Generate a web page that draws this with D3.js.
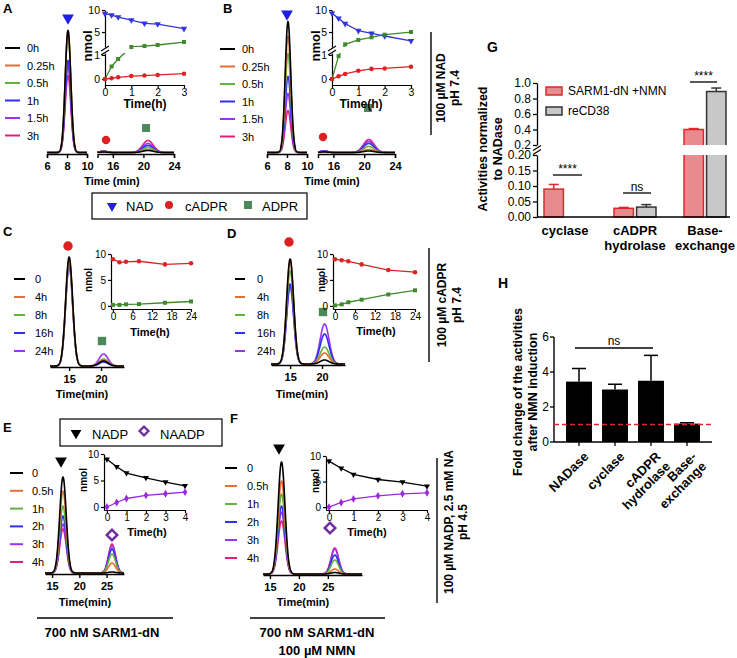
<!DOCTYPE html>
<html><head><meta charset="utf-8">
<script src="https://cdn.jsdelivr.net/npm/d3@7"></script>
<style>body{margin:0;background:#fff}svg{display:block}</style>
</head><body><script>
// ================= DATA =================
// Chromatogram trace labels
const abLabels = ["0h","0.25h","0.5h","1h","1.5h","3h"];
const cdLabels = ["0","4h","8h","16h","24h"];
const efLabels = ["0","0.5h","1h","2h","3h","4h"];
// retention times (min) and peak widths (sd, min)
const rtNAD = 8.1, sdNAD = 0.28;
const rtCADPR_ab = 14.8, sdCADPR_ab = 0.5;
const rtADPR_ab = 20.6, sdADPR_ab = 0.7;
const rtCADPR_cd = 15.0, sdCADPR_cd = 0.55;
const rtADPR_cd = 20.4, sdADPR_cd = 0.7;
const rtNADP = 17.0, sdNADP = 0.6;
const rtNAADP_E = 26.0, rtNAADP_F = 26.2, sdNAADP = 0.65;
// peak heights (mAU)
const chromA_NAD   = [122,121,120,92,87,77];
const chromA_cADPR = [0.5,0.6,0.8,1.0,1.2,1.5];
const chromA_ADPR  = [2,3,5,7,9,12];
const chromB_NAD   = [131,116,99,76,59,42];
const chromB_cADPR = [0.6,0.8,1.0,1.3,1.5,1.8];
const chromB_ADPR  = [1.5,3,6,9,11,13];
const chromC_cADPR = [109,105,105,100,102];
const chromC_ADPR  = [5,6,7,4,12];
const chromD_cADPR = [105,103,93,80,77];
const chromD_ADPR  = [4,11,17,30,40];
const chromE_NADP  = [96,82,67,57,49,44];
const chromE_NAADP = [1,10,19,24,27,29];
const chromF_NADP  = [112,93,80,68,62,53];
const chromF_NAADP = [1.5,5,14,19,25,26];
// Inset time courses (nmol)
const insetAB_time = [0,0.25,0.5,1,1.5,2,3];
const insetA_NAD   = [9.16,8.86,8.4,7.7,6.97,6.8,5.75];
const insetA_cADPR = [0,0.03,0.07,0.12,0.14,0.17,0.22];
const insetA_ADPR  = [0,0.52,0.83,1.6,1.82,2.05,2.73];
const insetB_NAD   = [9.26,8.1,6.9,5.3,4.7,4.1,3.0];
const insetB_cADPR = [0,0.11,0.21,0.34,0.42,0.44,0.51];
const insetB_ADPR  = [0,0.95,2.2,3.2,3.8,4.4,5.0];
const insetCD_time = [0,2,4,8,16,24];
const insetC_cADPR = [9.0,8.4,8.5,8.6,8.0,8.2];
const insetC_ADPR  = [0.2,0.2,0.3,0.35,0.6,0.85];
const insetD_cADPR = [9.0,8.8,8.6,8.0,6.9,6.5];
const insetD_ADPR  = [0.1,0.3,0.7,1.2,2.2,3.0];
const insetEF_time = [0,0.5,1,2,3,4];
const insetE_NADP  = [9.0,7.6,6.4,5.5,4.7,4.0];
const insetE_NAADP = [0,0.85,1.6,2.2,2.5,2.8];
const insetF_NADP  = [9.0,7.6,6.4,5.4,4.9,4.1];
const insetF_NAADP = [0,0.9,1.6,2.2,2.6,2.8];
// Panel G
const gCategories = ["cyclase","cADPR hydrolase","Base-exchange"];
const gCatLines = [["cyclase"],["cADPR","hydrolase"],["Base-","exchange"]];
const gSeries = ["SARM1-dN +NMN","reCD38"];
const gSARM1 = [0.09,0.028,0.40];
const gSARM1err = [0.015,0.003,0.012];
const gCD38 = [0,0.032,0.89];
const gCD38err = [0,0.008,0.045];
const gUpperTicks = [0.2,0.4,0.6,0.8,1.0];
const gLowerTicks = [0,0.05,0.10,0.15,0.20];
// Panel H
const hCategories = ["NADase","cyclase","cADPR hydrolase","Base-exchange"];
const hCatLines = [["NADase"],["cyclase"],["cADPR","hydrolase"],["Base-","exchange"]];
const hFold = [3.45,3.0,3.5,1.05];
const hErr  = [0.75,0.3,1.45,0.05];
const hTicks = [0,2,4,6];

// ================= STYLE =================
const FONT = "'Liberation Sans', Arial, Helvetica, sans-serif";
const col6 = ["#000000","#e3702f","#63b33b","#2f2ff5","#9c34ef","#e2207c"];
const col5 = col6.slice(0,5);
const cNAD = "#3434e0", cADPRg = "#3f8a2d", cCADPR = "#dd2323", cNAADP = "#9a2bdc";
const mkBlue = "#1f1fe6", mkRed = "#dd1f1f", mkGreen = "#4b8a58", mkPurple = "#6f2ca3";
const fmtG = d3.format("~g");

const svg = d3.select("body").append("svg").attr("width",737).attr("height",658)
  .style("font-family",FONT);

function T(x,y,s,o={}){
  const t = svg.append("text").attr("x",x).attr("y",y).text(s)
    .attr("font-size",o.size||11).attr("font-weight",o.bold?"bold":"normal")
    .attr("text-anchor",o.anchor||"start").attr("fill",o.fill||"#000");
  if(o.rot) t.attr("transform",`rotate(${o.rot},${x},${y})`);
  return t;
}
function axisStyle(g,{size=11,bold=false,sw=1.3}={}){
  g.attr("font-family",null).attr("font-size",null);
  g.selectAll(".domain").attr("stroke","#000").attr("stroke-width",sw);
  g.selectAll(".tick line").attr("stroke","#000").attr("stroke-width",sw);
  g.selectAll(".tick text").attr("fill","#000").attr("font-size",size).attr("font-weight",bold?"bold":"normal");
}
function sym(type,x,y,size,fill,rot=0,stroke=null,sw=0){
  svg.append("path").attr("d",d3.symbol().type(type).size(size)())
    .attr("transform",`translate(${x},${y}) rotate(${rot})`)
    .attr("fill",fill).attr("stroke",stroke||"none").attr("stroke-width",sw);
}
function chromSegment(xs,ys,peaks,colors,ticks,axisY,outer){
  const [d0,d1]=xs.domain();
  const ts=d3.range(0,401).map(k=>d0+(d1-d0)*k/400);
  const line=d3.line().x(d=>xs(d[0])).y(d=>ys(d[1]));
  for(let i=colors.length-1;i>=0;i--){
    const pts=ts.map(t=>[t,d3.sum(peaks,p=>p.h[i]*Math.exp(-0.5*Math.pow((t-p.rt)/p.sd,2)))]);
    svg.append("path").attr("d",line(pts)).attr("fill","none").attr("stroke",colors[i])
      .attr("stroke-width",1.6).attr("stroke-linejoin","round");
  }
  svg.append("g").attr("transform",`translate(0,${axisY})`)
    .call(d3.axisBottom(xs).tickValues(ticks).tickFormat(fmtG).tickSize(4).tickPadding(4).tickSizeOuter(outer))
    .call(g=>axisStyle(g,{size:11,bold:true,sw:1.4}));
}
function chromLegend(x0,x1,xt,y0,step,labels,colors){
  labels.forEach((l,i)=>{
    const y=y0+i*step;
    svg.append("line").attr("x1",x0).attr("x2",x1).attr("y1",y).attr("y2",y)
      .attr("stroke",colors[i]).attr("stroke-width",2);
    T(xt,y+4,l,{size:11});
  });
}
let clipN=0;
function inset(o){
  const fs=o.fs||10;
  svg.append("g").attr("transform",`translate(0,${o.axisY})`)
    .call(d3.axisBottom(o.x).tickValues(o.xTicks).tickFormat(fmtG).tickSize(3).tickPadding(1).tickSizeOuter(0))
    .call(g=>axisStyle(g,{size:fs,sw:1.2}));
  o.yAxes.forEach(a=>svg.append("g").attr("transform",`translate(${o.axisX},0)`)
    .call(d3.axisLeft(a.scale).tickValues(a.ticks).tickFormat(fmtG).tickSize(3).tickPadding(2).tickSizeOuter(0))
    .call(g=>axisStyle(g,{size:fs,sw:1.2})));
  let lg=svg.append("g");
  if(o.clip){
    const id="clip"+(clipN++);
    const cp=svg.append("clipPath").attr("id",id);
    o.clip.forEach(r=>cp.append("rect").attr("x",r[0]).attr("y",r[1]).attr("width",r[2]).attr("height",r[3]));
    lg.attr("clip-path",`url(#${id})`);
  }
  o.series.forEach(s=>{
    const pts=o.time.map((t,i)=>[t,s.vals[i]]);
    lg.append("path").attr("d",d3.line().x(d=>o.x(d[0])).y(d=>o.y(d[1]))(pts))
      .attr("fill","none").attr("stroke",s.color).attr("stroke-width",1.3);
    pts.forEach(p=>sym(s.sym,o.x(p[0]),o.y(p[1]),s.size||14,s.color,s.rot||0));
  });
  if(o.title) T(o.title[0],o.title[1],"Time(h)",{size:o.tfs||11,bold:true,anchor:"middle"});
  if(o.ylab) T(o.ylab[0],o.ylab[1],"nmol",{size:o.yfs||10,bold:true,anchor:"middle",rot:-90});
}
function breakMarks(x,y1,y2){
  [y1,y2].forEach(y=>svg.append("line").attr("x1",x-4).attr("y1",y+2.5).attr("x2",x+4).attr("y2",y-2.5)
    .attr("stroke","#000").attr("stroke-width",1.2));
}

// ================= PANEL A =================
T(3,13,"A",{size:13,bold:true});
sym(d3.symbolTriangle,68,18,60,mkBlue,180);
chromLegend(5,20,27,48,17.5,abLabels,col6);
{
  const ys=d3.scaleLinear().domain([0,140]).range([152.5,12.5]);
  chromSegment(d3.scaleLinear().domain([6,10]).range([47,87]),ys,
    [{rt:rtNAD,sd:sdNAD,h:chromA_NAD}],col6,[6,8,10],154,4);
  chromSegment(d3.scaleLinear().domain([14,24]).range([97.5,174]),ys,
    [{rt:rtCADPR_ab,sd:sdCADPR_ab,h:chromA_cADPR},{rt:rtADPR_ab,sd:sdADPR_ab,h:chromA_ADPR}],col6,[16,20,24],154,4);
  T(112,185,"Time (min)",{size:11,bold:true,anchor:"middle"});
  sym(d3.symbolCircle,106,140,55,mkRed);
  sym(d3.symbolSquare,146,128,64,mkGreen);
  const x=d3.scaleLinear().domain([0,3]).range([105,184]);
  const y=d3.scaleLinear().domain([-0.25,1.08,1.6,10]).range([85,53,47,10]);
  inset({x,y,axisY:85,axisX:105,xTicks:[0,1,2,3],time:insetAB_time,fs:10.5,
    yAxes:[{scale:d3.scaleLinear().domain([-0.25,1.08]).range([85,53]),ticks:[0,1]},
           {scale:d3.scaleLinear().domain([1.6,10]).range([47,10]),ticks:[5,10]}],
    clip:[[100,0,100,47],[100,53,100,40]],
    series:[{vals:insetA_NAD,color:cNAD,sym:d3.symbolTriangle,rot:180,size:18},
            {vals:insetA_ADPR,color:cADPRg,sym:d3.symbolSquare,size:16},
            {vals:insetA_cADPR,color:cCADPR,sym:d3.symbolCircle,size:16}],
    title:[145,108],tfs:12,ylab:[92,46],yfs:13});
  breakMarks(105,48.5,52.5);
}

// ================= PANEL B =================
T(223,13,"B",{size:13,bold:true});
sym(d3.symbolTriangle,287,14,60,mkBlue,180);
chromLegend(220,235,242,49,17.5,abLabels,col6);
{
  const ys=d3.scaleLinear().domain([0,140]).range([152.5,12.5]);
  chromSegment(d3.scaleLinear().domain([6,10]).range([267,307]),ys,
    [{rt:rtNAD,sd:sdNAD,h:chromB_NAD}],col6,[6,8,10],154,4);
  chromSegment(d3.scaleLinear().domain([14,24]).range([318,395]),ys,
    [{rt:rtCADPR_ab,sd:sdCADPR_ab,h:chromB_cADPR},{rt:rtADPR_ab,sd:sdADPR_ab,h:chromB_ADPR}],col6,[16,20,24],154,4);
  T(332,185,"Time (min)",{size:11,bold:true,anchor:"middle"});
  sym(d3.symbolCircle,323,137,55,mkRed);
  sym(d3.symbolSquare,368,108,64,mkGreen);
  const x=d3.scaleLinear().domain([0,3]).range([332,411]);
  const y=d3.scaleLinear().domain([-0.25,1.08,1.6,10]).range([85,53,47,10]);
  inset({x,y,axisY:85,axisX:332,xTicks:[0,1,2,3],time:insetAB_time,fs:10.5,
    yAxes:[{scale:d3.scaleLinear().domain([-0.25,1.08]).range([85,53]),ticks:[0,1]},
           {scale:d3.scaleLinear().domain([1.6,10]).range([47,10]),ticks:[5,10]}],
    clip:[[327,0,100,47],[327,53,100,40]],
    series:[{vals:insetB_NAD,color:cNAD,sym:d3.symbolTriangle,rot:180,size:18},
            {vals:insetB_ADPR,color:cADPRg,sym:d3.symbolSquare,size:16},
            {vals:insetB_cADPR,color:cCADPR,sym:d3.symbolCircle,size:16}],
    title:[361,108],tfs:12,ylab:[320,46],yfs:13});
  breakMarks(332,48.5,52.5);
}
// legend box NAD / cADPR / ADPR
svg.append("rect").attr("x",92).attr("y",193).attr("width",215).attr("height",26)
  .attr("fill","none").attr("stroke","#000").attr("stroke-width",1.2);
sym(d3.symbolTriangle,112,206,45,mkBlue,180);
T(126,211,"NAD",{size:13});
sym(d3.symbolCircle,169,205,50,mkRed);
T(185,211,"cADPR",{size:13});
sym(d3.symbolSquare,248,205,64,mkGreen);
T(262,211,"ADPR",{size:13});
// right label NAD
svg.append("line").attr("x1",431).attr("x2",431).attr("y1",32).attr("y2",135).attr("stroke","#000").attr("stroke-width",1.4);
T(445,88,"100 µM NAD",{size:12,bold:true,anchor:"middle",rot:-90});
T(459,88,"pH 7.4",{size:12,bold:true,anchor:"middle",rot:-90});

// ================= PANEL C =================
T(3,236,"C",{size:13,bold:true});
sym(d3.symbolCircle,68,246,70,mkRed);
chromLegend(14,25,35,279,18,cdLabels,col5);
{
  const ys=d3.scaleLinear().domain([0,120]).range([366,246]);
  chromSegment(d3.scaleLinear().domain([12,23.6]).range([50,124]),ys,
    [{rt:rtCADPR_cd,sd:sdCADPR_cd,h:chromC_cADPR},{rt:rtADPR_cd,sd:sdADPR_cd,h:chromC_ADPR}],col5,[15,20],367,0);
  T(82,398,"Time(min)",{size:11,bold:true,anchor:"middle"});
  sym(d3.symbolSquare,102,341,70,mkGreen);
  const x=d3.scaleLinear().domain([-0.6,24]).range([111,191]);
  const y=d3.scaleLinear().domain([-0.6,10]).range([309,254]);
  inset({x,y,axisY:309,axisX:111,xTicks:[0,6,12,18,24],time:insetCD_time,
    yAxes:[{scale:y,ticks:[0,5,10]}],
    series:[{vals:insetC_cADPR,color:cCADPR,sym:d3.symbolCircle,size:16},
            {vals:insetC_ADPR,color:cADPRg,sym:d3.symbolSquare,size:16}],
    title:[150,336],tfs:11,ylab:[92,280],yfs:10});
}

// ================= PANEL D =================
T(227,238,"D",{size:13,bold:true});
sym(d3.symbolCircle,289,242,70,mkRed);
chromLegend(235,245,257,279,18,cdLabels,col5);
{
  const ys=d3.scaleLinear().domain([0,120]).range([364,244]);
  chromSegment(d3.scaleLinear().domain([12,23.6]).range([271,345]),ys,
    [{rt:rtCADPR_cd,sd:sdCADPR_cd,h:chromD_cADPR},{rt:rtADPR_cd,sd:sdADPR_cd,h:chromD_ADPR}],col5,[15,20],365,0);
  T(302,398,"Time(min)",{size:11,bold:true,anchor:"middle"});
  sym(d3.symbolSquare,323,312,70,mkGreen);
  const x=d3.scaleLinear().domain([-0.6,24]).range([333,415]);
  const y=d3.scaleLinear().domain([-0.6,10]).range([309,254]);
  inset({x,y,axisY:309,axisX:333,xTicks:[0,6,12,18,24],time:insetCD_time,
    yAxes:[{scale:y,ticks:[0,5,10]}],
    series:[{vals:insetD_cADPR,color:cCADPR,sym:d3.symbolCircle,size:16},
            {vals:insetD_ADPR,color:cADPRg,sym:d3.symbolSquare,size:16}],
    title:[376,335],tfs:11,ylab:[325,280],yfs:10});
}
svg.append("line").attr("x1",429).attr("x2",429).attr("y1",248).attr("y2",362).attr("stroke","#000").attr("stroke-width",1.4);
T(446,305,"100 µM cADPR",{size:12,bold:true,anchor:"middle",rot:-90});
T(461,305,"pH 7.4",{size:12,bold:true,anchor:"middle",rot:-90});

// ================= PANEL E =================
T(3,432,"E",{size:13,bold:true});
svg.append("rect").attr("x",60).attr("y",419).attr("width",162).attr("height",27)
  .attr("fill","none").attr("stroke","#000").attr("stroke-width",1.2);
sym(d3.symbolTriangle,76,433,50,"#000",180);
T(92,439,"NADP",{size:13});
sym(d3.symbolSquare,144,431,40,"none",45,mkPurple,2.3);
T(160,439,"NAADP",{size:13});
sym(d3.symbolTriangle,61,461,60,"#000",180);
sym(d3.symbolSquare,112,535,55,"none",45,mkPurple,2.5);
chromLegend(10,23,32,473,17.8,efLabels,col6);
{
  const ys=d3.scaleLinear().domain([0,120]).range([573,453]);
  chromSegment(d3.scaleLinear().domain([13.7,28.2]).range([45,124]),ys,
    [{rt:rtNADP,sd:sdNADP,h:chromE_NADP},{rt:rtNAADP_E,sd:sdNAADP,h:chromE_NAADP}],col6,[15,20,25],574,0);
  T(85,606,"Time(min)",{size:11,bold:true,anchor:"middle"});
  const x=d3.scaleLinear().domain([-0.15,4]).range([104,185]);
  const y=d3.scaleLinear().domain([-0.57,10]).range([510,454]);
  inset({x,y,axisY:510,axisX:104,xTicks:[0,1,2,3,4],time:insetEF_time,
    yAxes:[{scale:y,ticks:[0,5,10]}],
    series:[{vals:insetE_NADP,color:"#000",sym:d3.symbolTriangle,rot:180,size:16},
            {vals:insetE_NAADP,color:cNAADP,sym:d3.symbolDiamond,size:18}],
    title:[147,536],tfs:11,ylab:[87,480],yfs:10});
}
svg.append("line").attr("x1",37).attr("x2",173).attr("y1",618).attr("y2",618).attr("stroke","#000").attr("stroke-width",1.4);
T(102,637,"700 nM SARM1-dN",{size:13,bold:true,anchor:"middle"});

// ================= PANEL F =================
T(230,423,"F",{size:13,bold:true});
sym(d3.symbolTriangle,279,448,60,"#000",180);
sym(d3.symbolSquare,330,528,55,"none",45,mkPurple,2.5);
chromLegend(225,237,247,468,18,efLabels,col6);
{
  const ys=d3.scaleLinear().domain([0,120]).range([574,454]);
  chromSegment(d3.scaleLinear().domain([13.8,30.9]).range([263,362]),ys,
    [{rt:rtNADP,sd:sdNADP,h:chromF_NADP},{rt:rtNAADP_F,sd:sdNAADP,h:chromF_NAADP}],col6,[15,20,25],575,0);
  T(303,606,"Time(min)",{size:11,bold:true,anchor:"middle"});
  const x=d3.scaleLinear().domain([-0.12,4]).range([326,427]);
  const y=d3.scaleLinear().domain([-0.57,10]).range([510,456]);
  inset({x,y,axisY:510,axisX:326,xTicks:[0,1,2,3,4],time:insetEF_time,
    yAxes:[{scale:y,ticks:[0,5,10]}],
    series:[{vals:insetF_NADP,color:"#000",sym:d3.symbolTriangle,rot:180,size:16},
            {vals:insetF_NAADP,color:cNAADP,sym:d3.symbolDiamond,size:18}],
    title:[367,536],tfs:11,ylab:[319,481],yfs:10});
}
svg.append("line").attr("x1",250).attr("x2",385).attr("y1",618).attr("y2",618).attr("stroke","#000").attr("stroke-width",1.4);
T(317,637,"700 nM SARM1-dN",{size:13,bold:true,anchor:"middle"});
T(317,655,"100 µM NMN",{size:13,bold:true,anchor:"middle"});
svg.append("line").attr("x1",437).attr("x2",437).attr("y1",458).attr("y2",603).attr("stroke","#000").attr("stroke-width",1.4);
T(453,522,"100 µM NADP, 2.5 mM NA",{size:12,bold:true,anchor:"middle",rot:-90});
T(467,522,"pH 4.5",{size:12,bold:true,anchor:"middle",rot:-90});

// ================= PANEL G =================
T(487,52,"G",{size:14,bold:true});
{
  const yL=d3.scaleLinear().domain([0,0.2]).range([217,155]);
  const yU=d3.scaleLinear().domain([0.2,1.0]).range([145,83]);
  const gx=d3.scaleBand().domain(gCategories).range([530,740]);
  const gs=d3.scaleBand().domain(gSeries).range([0,42]).paddingInner(0.14);
  const off=(gx.bandwidth()-42)/2;
  svg.append("g").attr("transform","translate(537,0)")
    .call(d3.axisLeft(yL).tickValues(gLowerTicks).tickFormat(d3.format(".2f")).tickSize(4).tickPadding(2).tickSizeOuter(0))
    .call(g=>axisStyle(g,{size:12,sw:1.3}));
  svg.append("g").attr("transform","translate(537,0)")
    .call(d3.axisLeft(yU).tickValues(gUpperTicks).tickFormat(d3.format(".1f")).tickSize(4).tickPadding(2).tickSizeOuter(0))
    .call(g=>axisStyle(g,{size:12,sw:1.3}));
  breakMarks(537,148,152);
  const cp1=svg.append("clipPath").attr("id","gLow"); cp1.append("rect").attr("x",530).attr("y",155).attr("width",210).attr("height",63);
  const cp2=svg.append("clipPath").attr("id","gUp"); cp2.append("rect").attr("x",530).attr("y",50).attr("width",210).attr("height",95);
  const series=[{vals:gSARM1,err:gSARM1err,fill:"#e68c8f",stroke:"#e0262b",name:gSeries[0]},
                {vals:gCD38,err:gCD38err,fill:"#c8c8c8",stroke:"#333333",name:gSeries[1]}];
  const low=svg.append("g").attr("clip-path","url(#gLow)");
  const up=svg.append("g").attr("clip-path","url(#gUp)");
  series.forEach(s=>{
    gCategories.forEach((c,i)=>{
      const v=s.vals[i]; if(v<=0) return;
      const bx=gx(c)+off+gs(s.name), bw=gs.bandwidth();
      const yl=Math.max(yL(v),140);
      low.append("rect").attr("x",bx).attr("y",yl).attr("width",bw).attr("height",217-yl)
        .attr("fill",s.fill).attr("stroke",s.stroke).attr("stroke-width",1.5);
      if(v>0.2){
        up.append("rect").attr("x",bx).attr("y",yU(v)).attr("width",bw).attr("height",155-yU(v))
          .attr("fill",s.fill).attr("stroke",s.stroke).attr("stroke-width",1.5);
      }
      const sc=v>0.2?yU:yL, cx=bx+bw/2;
      svg.append("line").attr("x1",cx).attr("x2",cx).attr("y1",sc(v)).attr("y2",sc(v+s.err[i])).attr("stroke",s.stroke).attr("stroke-width",1.5);
      svg.append("line").attr("x1",cx-5).attr("x2",cx+5).attr("y1",sc(v+s.err[i])).attr("y2",sc(v+s.err[i])).attr("stroke",s.stroke).attr("stroke-width",1.5);
    });
  });
  svg.append("line").attr("x1",537).attr("x2",730).attr("y1",217).attr("y2",217).attr("stroke","#000").attr("stroke-width",1.4);
  gCatLines.forEach((lines,i)=>{
    const cx=gx(gCategories[i])+gx.bandwidth()/2;
    lines.forEach((l,j)=>T(cx,235+j*15,l,{size:13,bold:true,anchor:"middle"}));
  });
  series.forEach((s,i)=>{
    svg.append("rect").attr("x",546).attr("y",87+i*20).attr("width",16).attr("height",8)
      .attr("fill",s.fill).attr("stroke",s.stroke).attr("stroke-width",1.5);
    T(568,95+i*20,s.name,{size:12});
  });
  const sig=(x1,x2,y,label)=>{
    svg.append("line").attr("x1",x1).attr("x2",x2).attr("y1",y).attr("y2",y).attr("stroke","#000").attr("stroke-width",1.3);
    T((x1+x2)/2,y-2,label,{size:12,anchor:"middle"});
  };
  sig(690,717,82,"****");
  sig(553,582,175,"****");
  sig(623,651,193,"ns");
  T(487,149,"Activities normalized",{size:12.5,bold:true,anchor:"middle",rot:-90});
  T(502,149,"to NADase",{size:12.5,bold:true,anchor:"middle",rot:-90});
}

// ================= PANEL H =================
T(498,288,"H",{size:14,bold:true});
{
  const y=d3.scaleLinear().domain([0,6]).range([442,337]);
  const x=d3.scaleBand().domain(hCategories).range([561,705]).paddingInner(0.28).paddingOuter(0.14);
  const ax=svg.append("g");
  ax.append("line").attr("x1",554).attr("x2",554).attr("y1",y(6)).attr("y2",y(0)).attr("stroke","#000").attr("stroke-width",1.4);
  hTicks.forEach(t=>{
    ax.append("line").attr("x1",550).attr("x2",554).attr("y1",y(t)).attr("y2",y(t)).attr("stroke","#000").attr("stroke-width",1.3);
    ax.append("text").attr("x",549).attr("y",y(t)+4.2).attr("text-anchor","end").attr("font-size",12).attr("fill","#000").text(String(t));
  });
  hCategories.forEach((c,i)=>{
    const bx=x(c), bw=x.bandwidth(), cx=bx+bw/2;
    svg.append("rect").attr("x",bx).attr("y",y(hFold[i])).attr("width",bw).attr("height",442-y(hFold[i])).attr("fill","#000");
    svg.append("line").attr("x1",cx).attr("x2",cx).attr("y1",y(hFold[i])).attr("y2",y(hFold[i]+hErr[i])).attr("stroke","#000").attr("stroke-width",1.5);
    svg.append("line").attr("x1",cx-7).attr("x2",cx+7).attr("y1",y(hFold[i]+hErr[i])).attr("y2",y(hFold[i]+hErr[i])).attr("stroke","#000").attr("stroke-width",1.5);
    svg.append("line").attr("x1",cx).attr("x2",cx).attr("y1",442).attr("y2",446).attr("stroke","#000").attr("stroke-width",1.3);
    const t=svg.append("text").attr("transform",`translate(${cx+4},${451}) rotate(-45)`)
      .attr("text-anchor","end").attr("font-size",13).attr("font-weight","bold");
    hCatLines[i].forEach((l,j)=>t.append("tspan").attr("x",0).attr("dy",j?"1.05em":"0.7em").text(l));
  });
  svg.append("line").attr("x1",554).attr("x2",712).attr("y1",442).attr("y2",442).attr("stroke","#000").attr("stroke-width",1.4);
  svg.append("line").attr("x1",554).attr("x2",712).attr("y1",y(1)).attr("y2",y(1)).attr("stroke","#e0262b").attr("stroke-width",1.6).attr("stroke-dasharray","5,3");
  svg.append("line").attr("x1",575).attr("x2",653).attr("y1",348).attr("y2",348).attr("stroke","#000").attr("stroke-width",1.3);
  T(614,345,"ns",{size:12,anchor:"middle"});
  T(522,392,"Fold change of the activities",{size:12.5,bold:true,anchor:"middle",rot:-90});
  T(537,392,"after NMN induction",{size:12.5,bold:true,anchor:"middle",rot:-90});
}
</script></body></html>
